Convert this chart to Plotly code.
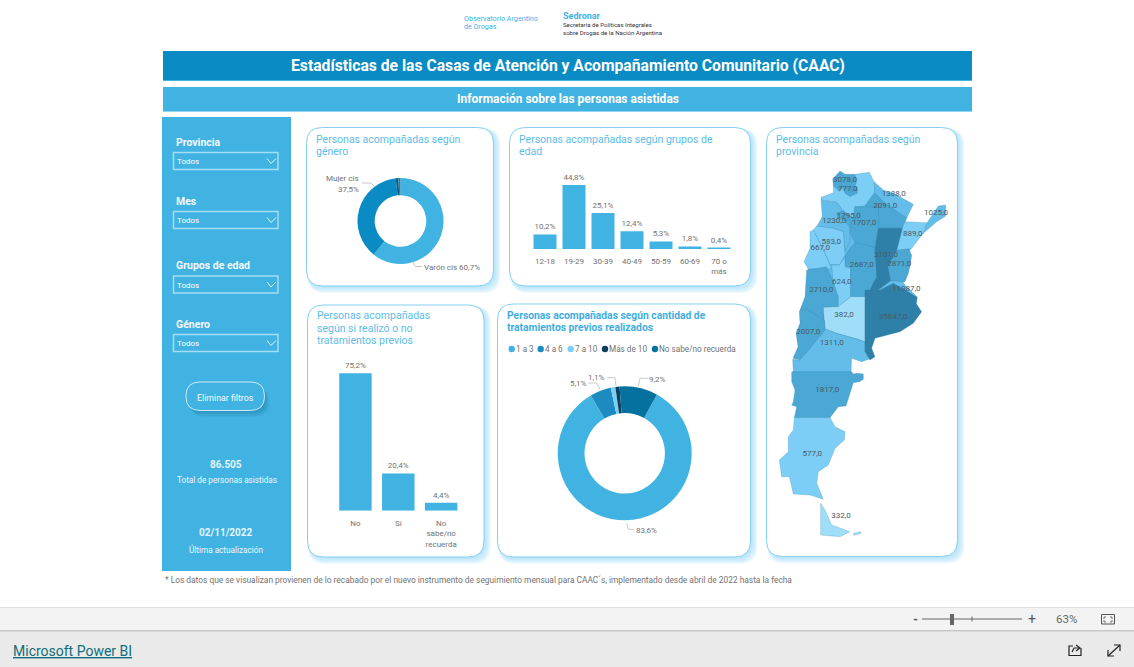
import plotly.graph_objects as go

W, H = 1134, 667
FONT = "Roboto"
BLUE = "#41B3E3"
DEEP = "#0B8BC4"
TXT = "#727272"

# ---------- data ----------
gen_labels = ["Varón cis", "Mujer cis", "Otros", "No informa"]
gen_values = [60.7, 37.5, 1.0, 0.8]
gen_colors = [BLUE, DEEP, "#0A5F85", "#1C7FAE"]

age_cats = ["12-18", "19-29", "30-39", "40-49", "50-59", "60-69", "70 o<br>más"]
age_vals = [10.2, 44.8, 25.1, 12.4, 5.3, 1.8, 0.4]

prev_cats = ["No", "Sí", "No<br>sabe/no<br>recuerda"]
prev_vals = [75.2, 20.4, 4.4]

trat_labels = ["1 a 3", "4 a 6", "7 a 10", "Más de 10", "No sabe/no recuerda"]
trat_values = [83.6, 5.1, 1.1, 1.0, 9.2]
trat_colors = [BLUE, "#1C8CC0", "#7CCEF6", "#0E3F5C", "#04719F"]

filters = ["Provincia", "Mes", "Grupos de edad", "Género"]

prov_names = ["Jujuy", "Salta", "Formosa", "Chaco", "Misiones", "Tucumán", "Catamarca", "Santiago del Estero",
              "Corrientes", "La Rioja", "San Juan", "Santa Fe", "Entre Ríos", "Córdoba", "San Luis", "CABA",
              "Mendoza", "La Pampa", "Buenos Aires", "Neuquén", "Río Negro", "Chubut", "Santa Cruz", "Tierra del Fuego"]
prov_vals = [3078, 777, 1388, 2091, 1025, 1795, 1230, 1707, 889, 583, 667, 3101, 2871, 2687, 624, 11987,
             2710, 382, 35847, 2007, 1311, 1817, 577, 332]
lab_x = [845, 847.7, 893.7, 885.3, 936, 848.7, 834.3, 864.3, 912.7, 831.3, 820.3, 886, 899.3, 861.7, 841.7,
         906.3, 821.3, 844, 893, 808.3, 831.7, 827.3, 812.3, 841]
lab_y = [180, 189, 193.7, 206.3, 213, 215.7, 220.7, 223.3, 234.3, 242.3, 247.7, 255.3, 264, 265.3, 282,
         288.7, 290.3, 315.3, 316.7, 331.7, 343.3, 390.3, 454.3, 516.3]

DK, MD, LM, LT, PL = "#2F80A8", "#4BA7D3", "#63BDE8", "#7CCEF6", "#A0DDF9"


def z7(p):
    return [(790 + x / 3, 280 + y / 3) for x, y in p]


def z3(p):
    return [(760 + x / 3, 340 + y / 3) for x, y in p]


def z2(p):
    return [(760 + x / 3, 120 + y / 3) for x, y in p]


# province outlines in map units, painted in this order
outlines = [
    ("Base", LM, z2([(205, 250), (340, 200), (440, 290), (425, 325), (495, 315), (450, 390), (445, 460), (430, 490),
                     (470, 530), (470, 580), (345, 640), (315, 700), (125, 700), (125, 600), (140, 520), (150, 390),
                     (175, 320)])),
    ("Salta", LT, z2([(183, 232), (220, 218), (220, 197), (238, 213), (255, 205), (285, 197), (290, 185), (285, 163),
                      (328, 157), (342, 185), (345, 213), (315, 258), (285, 260), (280, 295), (250, 273), (230, 247),
                      (183, 240)])),
    ("Jujuy", MD, z2([(218, 177), (240, 153), (255, 163), (285, 163), (290, 185), (285, 197), (292, 203), (292, 220),
                      (270, 230), (255, 220), (250, 205), (238, 213), (220, 197)])),
    ("Formosa", LM, z2([(342, 185), (370, 210), (410, 225), (460, 253), (440, 295), (375, 250), (345, 220)])),
    ("Chaco", MD, z2([(345, 220), (375, 250), (440, 295), (427, 325), (355, 325), (355, 260), (315, 258)])),
    ("Catamarca", LM, z2([(183, 240), (230, 247), (250, 273), (232, 280), (235, 295), (250, 297), (270, 325), (270, 365),
                          (255, 393), (250, 335), (220, 325), (170, 320), (187, 290)])),
    ("La Rioja", LT, z2([(170, 318), (220, 325), (250, 335), (255, 393), (255, 405), (238, 435), (210, 433), (190, 390),
                         (160, 330)])),
    ("San Juan", LT, z2([(150, 335), (160, 330), (190, 390), (210, 433), (215, 447), (145, 447), (132, 425), (150, 385)])),
    ("Santiago del Estero", MD, z2([(285, 260), (355, 260), (357, 325), (345, 382), (285, 368), (270, 340), (270, 295),
                                    (280, 295)])),
    ("Tucumán", MD, z2([(230, 280), (250, 273), (280, 295), (270, 318), (250, 297), (235, 295)])),
    ("San Luis", LT, z2([(215, 435), (238, 435), (255, 410), (272, 445), (272, 530), (235, 562), (220, 490)])),
    ("Córdoba", MD, z2([(285, 368), (345, 382), (350, 440), (350, 470), (330, 510), (315, 515), (315, 532), (272, 532),
                        (272, 445), (255, 440), (255, 410), (270, 385)])),
    ("Corrientes", LT, z2([(427, 325), (435, 305), (500, 308), (490, 340), (455, 385), (410, 392)])),
    ("Misiones", LM, z2([(500, 310), (535, 258), (557, 255), (557, 288), (530, 305), (505, 328), (490, 340)])),
    ("Entre Ríos", MD, z2([(410, 390), (445, 387), (455, 405), (450, 440), (435, 485), (392, 482), (383, 440)])),
    ("Santa Fe", DK, z2([(355, 325), (427, 325), (410, 390), (383, 440), (392, 482), (350, 514), (315, 516), (330, 510),
                         (350, 470), (345, 385)])),
    ("Mendoza", MD, z7([(50, -30), (110, -40), (128, 0), (145, 50), (145, 82), (100, 85), (103, 125), (50, 88), (28, 95),
                        (45, 50)])),
    ("La Pampa", PL, z7([(100, 82), (145, 80), (182, 50), (225, 50), (225, 187), (205, 178), (140, 160), (105, 147),
                         (103, 125)])),
    ("Río Negro", LM, z7([(103, 122), (105, 147), (140, 160), (225, 185), (225, 215), (245, 235), (215, 245), (185, 235),
                          (183, 276), (10, 276), (8, 238), (30, 240), (60, 205)])),
    ("Neuquén", MD, z7([(28, 95), (50, 86), (103, 122), (105, 150), (60, 205), (30, 240), (9, 235), (24, 200), (18, 160),
                        (30, 130)])),
    ("Buenos Aires", DK, z7([(225, 30), (270, 30), (310, 10), (345, 30), (382, 52), (378, 70), (395, 95), (370, 130),
                             (330, 155), (255, 175), (245, 205), (255, 230), (240, 240), (225, 215)])),
    ("Chubut", MD, z3([(95, 95), (275, 95), (280, 102), (292, 100), (310, 102), (310, 118), (298, 125), (280, 128),
                       (270, 160), (258, 198), (235, 200), (210, 233), (103, 233), (110, 200), (95, 195), (100, 185),
                       (105, 150), (95, 125)])),
    ("Santa Cruz", LT, z3([(103, 233), (210, 233), (225, 260), (255, 275), (253, 300), (225, 325), (205, 375), (175, 395),
                           (170, 430), (190, 478), (150, 465), (100, 462), (88, 410), (65, 410), (58, 360), (85, 335),
                           (85, 290), (100, 270)])),
    ("Tierra del Fuego", PL, z3([(182, 490), (195, 510), (215, 555), (270, 575), (240, 590), (182, 585)])),
    ("Isla", PL, z3([(280, 580), (302, 575), (303, 580), (282, 586)])),
]


# ---------- helpers ----------
def X(p):
    return p / W


def Y(p):
    return 1 - p / H


shapes, anns = [], []


def rect(x0, y0, x1, y1, fill, line=None, lw=0):
    shapes.append(dict(type="rect", xref="paper", yref="paper", x0=X(x0), x1=X(x1), y0=Y(y0), y1=Y(y1),
                       fillcolor=fill, line=dict(color=line or fill, width=lw), layer="below"))


def rrect(x0, y0, x1, y1, r, fill, line=None, lw=0, op=1.0):
    pts = [("M", x0 + r, y0), ("L", x1 - r, y0), ("Q", x1, y0, x1, y0 + r), ("L", x1, y1 - r), ("Q", x1, y1, x1 - r, y1),
           ("L", x0 + r, y1), ("Q", x0, y1, x0, y1 - r), ("L", x0, y0 + r), ("Q", x0, y0, x0 + r, y0)]
    d = ""
    for s in pts:
        d += s[0] + " " + " ".join(
            f"{X(v) if i % 2 == 0 else Y(v):.5f}" for i, v in enumerate(s[1:])) + " "
    shapes.append(dict(type="path", xref="paper", yref="paper", path=d + "Z", fillcolor=fill, opacity=op,
                       line=dict(color=line or "rgba(0,0,0,0)", width=lw), layer="below"))


def poly(pts, color, lw=1, layer="above"):
    d = "M " + " L ".join(f"{X(a):.5f} {Y(b):.5f}" for a, b in pts)
    shapes.append(dict(type="path", xref="paper", yref="paper", path=d, line=dict(color=color, width=lw),
                       layer=layer))


def txt(x, y, s, size=8, color=TXT, anchor="left", bold=False, family=FONT):
    if anchor == "left":
        x -= 1.2
    anns.append(dict(xref="paper", yref="paper", x=X(x), y=Y(y), text=f"<b>{s}</b>" if bold else s, showarrow=False,
                     xanchor=anchor, yanchor="middle", align=anchor, borderpad=0,
                     font=dict(family=family, size=size, color=color)))


def pct(v):
    return f"{v:.1f}%".replace(".", ",")


def card(x0, y0, x1, y1):
    for i in range(7, 0, -1):
        rrect(x0 + 1, y0 + 1, x1 + i, y1 + i, 17, "#8FD6F5", op=0.13)
    rrect(x0, y0, x1, y1, 16, "#FFFFFF", "#84CFF1", 1)


# ---------- page furniture ----------
rect(0, 607, W, 630, "#F3F3F3")
rect(0, 607, W, 608, "#E1E1E1")
rect(0, 630, W, 667, "#EAEAEA")
rect(0, 630, W, 631.5, "#C8C8C8")

rect(163, 51, 972, 80, DEEP)
rect(163, 80, 972, 81, BLUE)
rect(163, 87, 972, 111, BLUE)
rect(163, 111, 972, 112, "#8FD6F5")
rect(162, 117, 291, 571, BLUE)

txt(567.5, 65.5, "Estadísticas de las Casas de Atención y Acompañamiento Comunitario (CAAC)", 15.7, "white", "center", True)
txt(567.5, 99, "Información sobre las personas asistidas", 12, "white", "center", True)

txt(464, 18, "Observatorio Argentino", 7.2, BLUE)
txt(464, 26.5, "de Drogas", 7.2, BLUE)
txt(563, 16, "Sedronar", 9, BLUE, bold=True)
txt(563, 24.5, "Secretaría de Políticas Integrales", 6.1, "#333333")
txt(563, 32, "sobre Drogas de la Nación Argentina", 6.1, "#333333")

# side panel
for name, ty, by in zip(filters, [142, 201, 265, 324], [152.5, 211.5, 276, 334.5]):
    txt(176, ty, name, 10.5, "#F2FAFE", bold=True)
    shapes.append(dict(type="rect", xref="paper", yref="paper", x0=X(173.5), x1=X(278), y0=Y(by), y1=Y(by + 17),
                       line=dict(color="#A5DDF4", width=1.5), layer="above"))
    txt(177, by + 9, "Todos", 8, "white")
    poly([(267, by + 6), (271, by + 11), (276, by + 6)], "#DFF4FC", 1)

for i in range(8, 0, -1):
    rrect(186 + i * 0.6, 382 + i * 0.8, 264.5 + i * 0.6, 410.5 + i * 0.8, 14, "#0D5A80", op=0.05)
rrect(186, 382, 264.5, 410.5, 14, BLUE, "#CDEBF8", 1)
txt(225.5, 398, "Eliminar filtros", 8.8, "#F2FAFE", "center")
txt(226, 464.5, "86.505", 10, "#E6F5FC", "center", True)
txt(226.5, 480, "Total de personas asistidas", 8.2, "#EAF7FD", "center")
txt(226, 532.5, "02/11/2022", 10, "#E6F5FC", "center", True)
txt(226, 549, "Última actualización", 8.2, "#EAF7FD", "center")

# cards
card(306.5, 127.5, 493.5, 286)
card(509.5, 127.5, 750.5, 286)
card(766.5, 127.5, 957.5, 556.5)
card(307.5, 305, 484, 557)
card(497.5, 304, 750.5, 557)

TC = "#5CBDE9"
txt(316, 140, "Personas acompañadas según", 10.5, TC)
txt(316, 152, "género", 10.5, TC)
txt(519, 140, "Personas acompañadas según grupos de", 10.5, TC)
txt(519, 152, "edad", 10.5, TC)
txt(776, 139.5, "Personas acompañadas según", 10.5, TC)
txt(776, 151.5, "provincia", 10.5, TC)
txt(317, 316, "Personas acompañadas", 10.5, TC)
txt(317, 328, "según si realizó o no", 10.5, TC)
txt(317, 340.5, "tratamientos previos", 10.5, TC)
txt(507, 315.5, "Personas acompañadas según cantidad de", 10.3, "#3FAEDF", bold=True)
txt(507, 327.5, "tratamientos previos realizados", 10.3, "#3FAEDF", bold=True)

# donut 1 labels
txt(359.5, 178.5, gen_labels[1], 8, TXT, "right")
txt(359.5, 189, pct(gen_values[1]), 8, TXT, "right")
txt(424, 267, f"{gen_labels[0]} {pct(gen_values[0])}", 8, TXT)
poly([(362, 183), (371, 183), (375, 187)], "#C8C8C8", 1)
poly([(412.6, 262), (415.6, 266.5), (422, 266.5)], "#C8C8C8", 1)

# donut 2 legend and labels
for cx, c, lab in zip([511.7, 540.7, 570.7, 605, 655], trat_colors, trat_labels):
    shapes.append(dict(type="circle", xref="paper", yref="paper", x0=X(cx - 3.2), x1=X(cx + 3.2), y0=Y(349 - 3.2),
                       y1=Y(349 + 3.2), fillcolor=c, line=dict(width=0), layer="above"))
    txt(cx + 4.5, 349, lab, 8.2, TXT)
txt(578.7, 384, pct(trat_values[1]), 8, TXT, "center")
txt(596.7, 377.5, pct(trat_values[2]), 8, TXT, "center")
txt(657.3, 379.3, pct(trat_values[4]), 8, TXT, "center")
txt(646.7, 530, pct(trat_values[0]), 8, TXT, "center")
poly([(588, 383), (596.7, 383), (600, 389.3)], "#C8C8C8", 1)
poly([(607.3, 377.7), (615, 377.7), (616, 386)], "#C8C8C8", 1)
poly([(648.3, 378.3), (640, 378.3), (638.3, 386)], "#C8C8C8", 1)
poly([(626.7, 523.3), (628.3, 529.3), (634, 529.3)], "#C8C8C8", 1)

# footnote
txt(165, 580, "* Los datos que se visualizan provienen de lo recabado por el nuevo instrumento de seguimiento mensual "
              "para CAAC´s, implementado desde abril de 2022 hasta la fecha", 8.37, TXT)

# status bar
txt(915, 619, "-", 13, "#555555", "center", True)
poly([(922, 619), (1022, 619)], "#666666", 1)
poly([(972, 616.5), (972, 621.5)], "#666666", 1)
rect(950, 614, 954, 625, "#666666")
txt(1032, 618.5, "+", 14, "#555555", "center")
txt(1066.5, 619, "63%", 11.5, "#666666", "center")
shapes.append(dict(type="rect", xref="paper", yref="paper", x0=X(1101.5), x1=X(1114.5), y0=Y(614.5), y1=Y(624),
                   line=dict(color="#555555", width=1), layer="above"))
for a, b, c in [((1104, 619), (1104, 617), (1106, 617)), ((1110, 617), (1112, 617), (1112, 619)),
                ((1112, 620), (1112, 622), (1110, 622)), ((1106, 622), (1104, 622), (1104, 620))]:
    poly([a, b, c], "#555555", 0.8)
txt(13, 651, "<u>Microsoft Power BI</u>", 14, "#0F6E7A")
poly([(1081, 648), (1081, 655.5), (1069, 655.5), (1069, 646), (1073, 646)], "#222222", 1.2)
poly([(1072, 652), (1074, 648), (1079, 648)], "#222222", 1.2)
poly([(1076, 645), (1080, 648), (1076, 651)], "#222222", 1.2)
poly([(1108, 656), (1120, 645)], "#222222", 1.2)
poly([(1114, 645), (1120, 645), (1120, 651)], "#222222", 1.2)
poly([(1108, 650), (1108, 656), (1114, 656)], "#222222", 1.2)

# ---------- traces ----------
fig = go.Figure()


def donut(labels, values, colors, cx, cy, r, rot):
    fig.add_trace(go.Pie(labels=labels, values=values, hole=0.6, sort=False, direction="clockwise", rotation=rot,
                         marker=dict(colors=colors, line=dict(width=0)), textinfo="none", showlegend=False,
                         domain=dict(x=[X(cx - r), X(cx + r)], y=[Y(cy + r), Y(cy - r)])))


donut(gen_labels, gen_values, gen_colors, 400.5, 221, 43, 0)
donut(trat_labels, trat_values, trat_colors, 624.7, 453.3, 67, 28.7)


def bars(cats, vals, ax, gap):
    fig.add_trace(go.Bar(x=cats, y=vals, xaxis=f"x{ax}", yaxis=f"y{ax}", marker=dict(color=BLUE, line=dict(width=0)),
                         text=[pct(v) for v in vals], textposition="outside", cliponaxis=False, showlegend=False,
                         textfont=dict(family=FONT, size=8, color=TXT), width=1 - gap))


bars(age_cats, age_vals, "", 0.207)
bars(prev_cats, prev_vals, "2", 0.243)

for name, color, pts in outlines:
    edge = color if name == "Base" else "rgba(45,125,165,0.40)"
    fig.add_trace(go.Scatter(x=[p[0] for p in pts] + [pts[0][0]], y=[p[1] for p in pts] + [pts[0][1]], mode="lines",
                             fill="toself", fillcolor=color, line=dict(color=edge, width=0.6),
                             xaxis="x3", yaxis="y3", name=name, showlegend=False))
fig.add_trace(go.Scatter(x=lab_x, y=lab_y, mode="text", text=[f"{v},0" for v in prov_vals], xaxis="x3", yaxis="y3",
                         customdata=prov_names, textposition="middle center", cliponaxis=False, showlegend=False,
                         textfont=dict(family=FONT, size=8, color="#4A5A64")))

tick = dict(tickfont=dict(family=FONT, size=8, color=TXT), ticks="", showgrid=False, zeroline=False, showline=False,
            fixedrange=True, type="category", ticklabelstandoff=6)
hidden = dict(visible=False, fixedrange=True)
fig.update_layout(
    width=W, height=H, margin=dict(l=0, r=0, t=0, b=0, pad=0), paper_bgcolor="white", plot_bgcolor="rgba(0,0,0,0)",
    autosize=False, showlegend=False, shapes=shapes, annotations=anns, font=dict(family=FONT),
    xaxis=dict(domain=[X(530.5), X(733.5)], **tick),
    yaxis=dict(domain=[Y(249), Y(177.5)], range=[0, 50], **hidden),
    xaxis2=dict(domain=[X(334), X(462.6)], anchor="y2", **tick),
    yaxis2=dict(domain=[Y(510.7), Y(364.6)], range=[0, 80], anchor="x2", **hidden),
    xaxis3=dict(domain=[X(766), X(958)], range=[766, 958], anchor="y3", **hidden),
    yaxis3=dict(domain=[Y(557), Y(127)], range=[557, 127], anchor="x3", **hidden),
)
fig.write_html("out.html", config=dict(displayModeBar=False),
               post_script="document.body.style.margin='0';document.documentElement.style.overflow='hidden';")
